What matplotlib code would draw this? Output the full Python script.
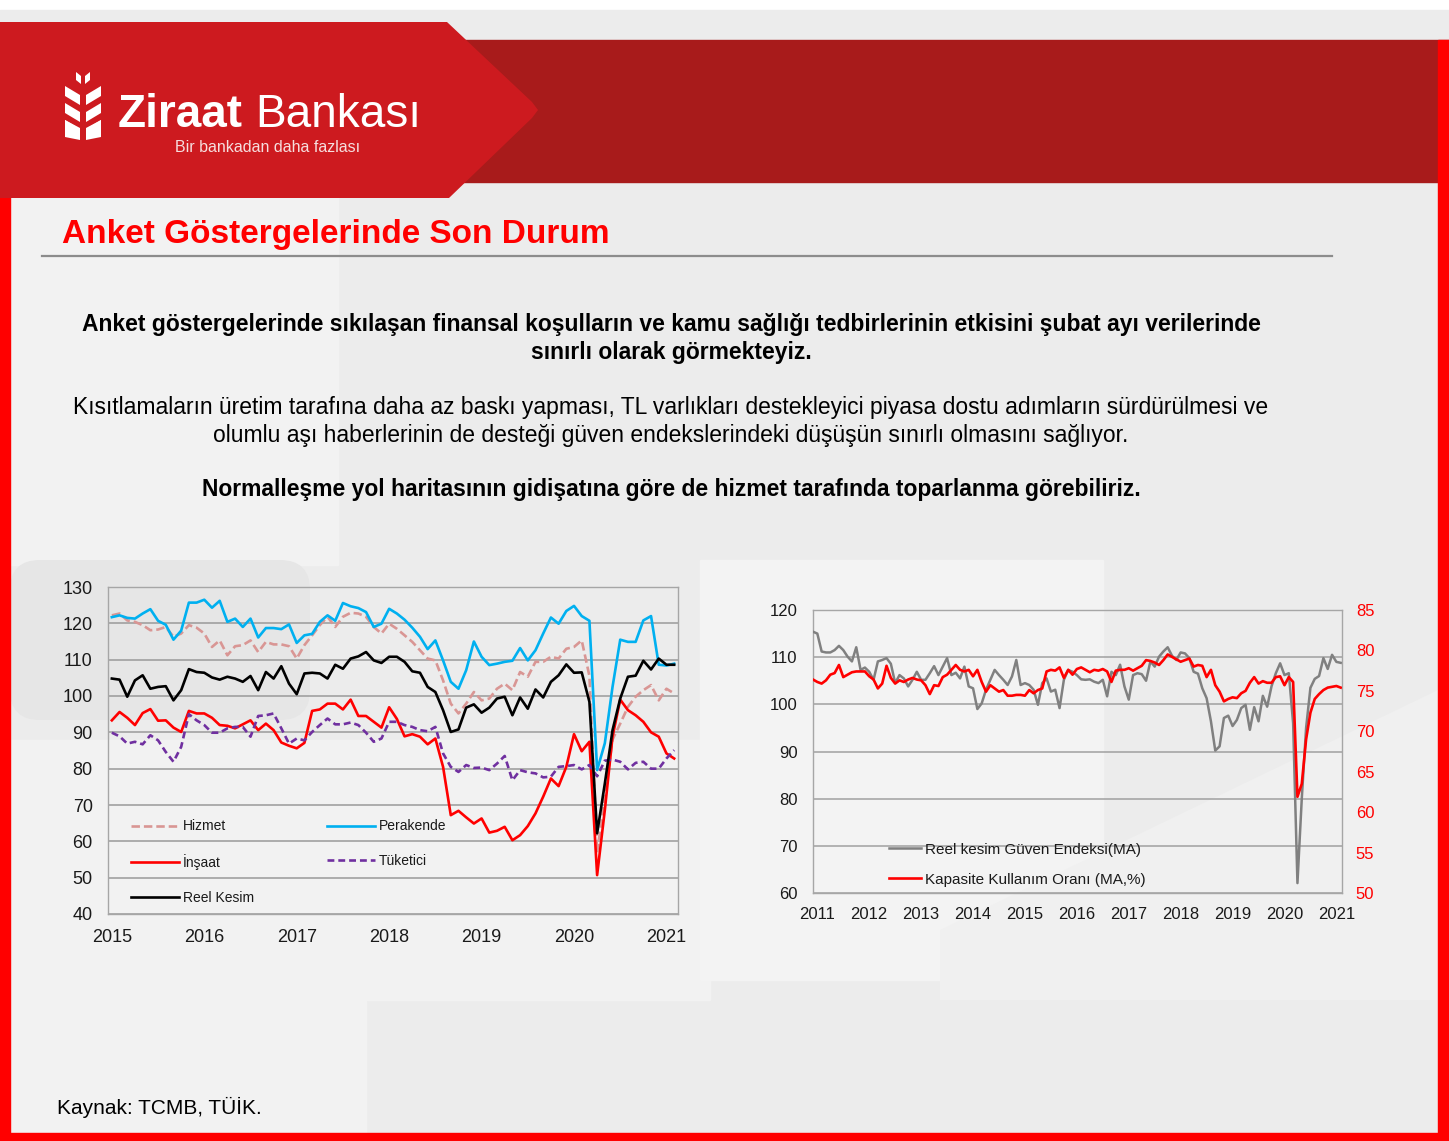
import numpy as np
import matplotlib
matplotlib.use("Agg")
import matplotlib.pyplot as plt
from matplotlib.patches import Polygon, Rectangle, FancyBboxPatch

plt.rcParams['font.family'] = ['Liberation Sans', 'DejaVu Sans']

# ---------------- data ----------------
# Left chart: monthly, Jan 2015 - Feb 2021
left_years = ["2015", "2016", "2017", "2018", "2019", "2020", "2021"]
hizmet = [122.2,122.7,120.8,120.4,119.5,118.1,118.3,119.0,116.3,117.2,119.5,118.8,117.2,113.5,115.3,111.2,113.7,114.0,115.3,112.1,114.9,114.2,114.2,113.7,110.3,114.0,116.7,119.5,121.8,119.0,121.8,122.9,122.7,121.8,119.0,117.2,119.9,118.5,116.7,114.9,112.6,110.3,109.8,104.3,97.9,95.2,97.9,101.1,98.8,99.3,102.0,103.4,101.6,106.6,105.3,109.4,109.4,110.8,110.3,113.0,113.5,115.3,105.5,57.0,72.0,88.0,92.4,97.0,99.8,101.6,103.0,98.8,102.0,100.7]
perakende = [121.7,122.2,121.5,121.3,122.7,123.9,120.7,119.6,115.5,118.0,125.7,125.7,126.5,124.3,126.2,120.4,121.3,119.0,121.3,116.1,118.7,118.7,118.4,119.7,114.6,116.7,117.1,120.4,122.2,120.7,125.6,124.7,124.2,123.1,119.0,119.9,124.0,122.7,121.0,118.8,116.3,112.9,115.3,109.8,103.9,102.0,107.1,115.0,110.8,108.5,108.9,109.4,109.7,113.2,109.8,112.6,117.2,121.6,119.9,123.4,124.8,122.0,120.7,79.6,87.0,102.5,115.5,114.9,114.9,120.8,122.0,108.6,108.4,108.9]
insaat = [93.3,95.6,94.0,92.0,95.3,96.4,93.2,93.3,91.3,90.1,95.9,95.2,95.2,94.0,92.0,91.8,91.1,92.2,93.3,90.6,92.4,90.6,87.2,86.3,85.6,87.1,95.9,96.3,97.9,97.9,96.3,99.0,94.5,94.5,92.9,91.3,96.9,93.7,88.9,89.5,88.8,86.7,88.3,80.5,67.2,68.4,66.6,64.9,66.3,62.4,62.9,64.0,60.3,61.7,64.2,67.7,72.3,77.3,75.2,80.5,89.5,84.8,87.4,50.7,68.6,88.8,99.0,96.1,94.7,92.9,90.0,88.8,84.2,82.8]
tuketici = [89.9,88.9,86.9,87.4,86.7,89.2,87.8,84.6,81.9,86.0,95.0,93.3,92.0,89.9,89.9,91.1,91.5,91.5,88.8,94.5,94.7,95.2,91.1,86.9,88.3,87.8,90.1,92.0,93.8,92.2,92.2,92.7,92.0,89.9,87.4,88.3,92.9,92.9,92.0,91.5,90.6,90.3,91.5,84.2,80.5,79.1,81.0,80.2,80.3,79.6,81.4,83.5,76.8,79.6,79.0,78.7,77.6,77.8,80.5,80.7,81.0,79.8,81.0,77.9,82.2,82.5,81.9,79.8,81.6,81.9,80.0,80.0,82.8,85.1]
reel_kesim = [104.8,104.5,99.8,104.3,105.7,102.0,102.5,102.7,98.8,101.6,107.4,106.6,106.4,105.1,104.5,105.3,104.8,103.9,105.5,101.6,106.6,104.8,108.2,103.4,100.5,106.2,106.4,106.2,104.8,108.6,107.5,110.3,110.9,112.1,109.8,109.1,110.8,110.8,109.4,106.8,106.4,102.5,101.1,96.1,90.1,90.8,96.8,97.7,95.4,96.8,99.3,99.8,94.7,99.6,96.5,101.8,99.6,103.9,105.7,108.7,106.4,106.5,98.4,62.2,75.9,90.6,99.3,105.3,105.6,109.7,107.3,110.3,108.6,108.6]

# Right chart: monthly, Jan 2011 - Mar 2021
right_years = ["2011", "2012", "2013", "2014", "2015", "2016", "2017", "2018", "2019", "2020", "2021"]
guven_endeksi = [115.4,115.0,111.2,111.0,111.0,111.5,112.4,111.5,110.1,109.1,
                 112.1,107.3,107.8,106.9,105.2,109.1,109.4,109.8,108.6,104.5,
                 106.2,105.5,103.8,105.2,106.9,105.2,105.2,106.6,108.1,106.2,
                 108.0,109.8,106.2,106.7,105.5,108.0,103.8,103.4,99.0,100.2,
                 103.1,105.2,107.3,106.2,105.2,104.1,105.9,109.4,104.1,104.5,
                 104.1,103.1,99.9,104.5,105.5,102.7,103.1,99.2,105.2,107.3,
                 106.9,106.2,105.3,105.2,105.3,104.8,104.5,105.2,101.7,106.9,
                 106.2,108.4,103.8,101.0,106.2,106.6,106.4,105.0,109.1,108.0,
                 110.1,111.2,112.1,110.3,109.4,111.0,110.8,109.8,106.9,106.5,
                 103.4,101.3,96.4,90.2,91.1,97.1,97.6,95.4,96.7,99.2,
                 99.9,94.6,99.4,96.4,101.8,99.5,103.8,106.6,108.7,106.2,
                 106.6,96.0,62.1,80.0,95.0,103.5,105.4,106.0,109.8,107.5,
                 110.5,109.0,108.8]
kko = [76.4,76.1,75.9,76.3,77.0,77.2,78.2,76.7,77.0,77.3,
       77.4,77.4,77.4,76.8,76.4,75.3,75.9,78.1,76.6,75.9,
       76.3,76.1,76.4,76.6,76.4,76.3,75.7,74.6,75.7,75.6,
       76.7,77.0,77.6,78.2,77.6,77.4,77.6,76.8,77.6,76.1,
       74.9,75.7,75.3,74.9,75.1,74.4,74.4,74.5,74.5,74.4,
       75.1,74.7,75.1,75.3,77.4,77.6,77.5,77.9,76.6,77.6,
       77.0,77.7,77.9,77.6,77.3,77.6,77.5,77.7,77.4,76.1,
       77.5,77.6,77.6,77.8,77.5,77.8,78.1,78.8,78.7,78.5,
       78.2,78.8,79.5,79.2,78.9,78.6,78.8,79.0,78.0,78.2,
       78.1,76.7,77.6,75.7,74.9,73.7,74.0,74.2,74.1,74.7,
       75.0,76.0,76.7,75.9,76.2,76.0,76.0,76.7,76.8,75.7,
       76.7,76.1,61.9,63.5,69.0,72.3,74.0,74.6,75.1,75.4,
       75.5,75.6,75.4]

W, H = 1449, 1141
fig = plt.figure(figsize=(W / 100, H / 100), dpi=100)
fig.patch.set_facecolor('white')

# ---------------- background (pixel coordinates) ----------------
bg = fig.add_axes([0, 0, 1, 1])
bg.set_xlim(0, W)
bg.set_ylim(H, 0)
bg.axis('off')

bg.add_patch(Rectangle((0, 10), W, H - 10, color='#ececec', zorder=0))
bg.add_patch(Rectangle((10, 195), 328, 370, color='#f2f2f2', zorder=0.5))
bg.add_patch(FancyBboxPatch((10, 560), 300, 160, boxstyle='round,pad=0,rounding_size=30',
                            color='#e6e6e6', zorder=0.5, lw=0))
bg.add_patch(Rectangle((10, 740), 700, 260, color='#f2f2f2', zorder=0.5))
bg.add_patch(Rectangle((10, 1000), 356, 133, color='#f2f2f2', zorder=0.5))
bg.add_patch(Rectangle((700, 560), 403, 420, color='#f3f3f3', zorder=0.5))
bg.add_patch(Polygon([(940, 930), (1438, 690), (1438, 1000), (940, 1000)], closed=True,
                     color='#f0f0f0', zorder=0.6, lw=0))

# red frame
bg.add_patch(Rectangle((440, 40), W - 440, 142, color='#a81b1b', zorder=1))
bg.add_patch(Rectangle((1438, 40), 11, H - 40, color='#ff0000', zorder=1))
bg.add_patch(Rectangle((0, 195), 10, H - 195, color='#ff0000', zorder=1))
bg.add_patch(Rectangle((0, 1133), W, 8, color='#ff0000', zorder=1))
bg.add_patch(Polygon([(0, 22), (447, 22), (532, 102), (538, 110), (532, 118), (449, 198), (0, 198)],
                     closed=True, color='#cd1a1f', zorder=2, lw=0))

# wheat icon
icon_col = 'white'
for k in range(3):
    y0 = 86 + 17 * k
    bg.add_patch(Polygon([(65, y0), (80, y0 + 9), (80, y0 + 19), (65, y0 + 10)], closed=True, color=icon_col, zorder=3, lw=0))
    bg.add_patch(Polygon([(101, y0), (86, y0 + 9), (86, y0 + 19), (101, y0 + 10)], closed=True, color=icon_col, zorder=3, lw=0))
bg.add_patch(Polygon([(65, 137), (80, 140), (80, 128), (65, 120)], closed=True, color=icon_col, zorder=3, lw=0))
bg.add_patch(Polygon([(101, 137), (86, 140), (86, 128), (101, 120)], closed=True, color=icon_col, zorder=3, lw=0))
bg.add_patch(Polygon([(76, 72), (81, 76), (81, 84), (76, 80)], closed=True, color=icon_col, zorder=3, lw=0))
bg.add_patch(Polygon([(90, 72), (85, 76), (85, 84), (90, 80)], closed=True, color=icon_col, zorder=3, lw=0))

bg.text(118, 127, "Ziraat", color='white', fontsize=33, fontweight='bold', va='baseline', ha='left', zorder=4)
bg.text(255, 127, "Bankası", color='white', fontsize=33, va='baseline', ha='left', zorder=4)
bg.text(175, 152, "Bir bankadan daha fazlası", color='#f6dede', fontsize=11.5, va='baseline', ha='left', zorder=4)

# title
bg.text(62, 243, "Anket Göstergelerinde Son Durum", color='#ff0000', fontsize=24, fontweight='bold',
        va='baseline', ha='left', zorder=4)
bg.plot([42, 1332], [256, 256], color='#8c8c8c', lw=1.6, zorder=4)

cx = 671
fs_body = 16.45
bg.text(cx, 331, "Anket göstergelerinde sıkılaşan finansal koşulların ve kamu sağlığı tedbirlerinin etkisini şubat ayı verilerinde",
        fontsize=fs_body, fontweight='bold', ha='center', va='baseline', zorder=4)
bg.text(cx, 359, "sınırlı olarak görmekteyiz.", fontsize=fs_body, fontweight='bold', ha='center', va='baseline', zorder=4)
bg.text(cx, 414, "Kısıtlamaların üretim tarafına daha az baskı yapması, TL varlıkları destekleyici piyasa dostu adımların sürdürülmesi ve",
        fontsize=fs_body, ha='center', va='baseline', zorder=4)
bg.text(cx, 442, "olumlu aşı haberlerinin de desteği güven endekslerindeki düşüşün sınırlı olmasını sağlıyor.",
        fontsize=fs_body, ha='center', va='baseline', zorder=4)
bg.text(cx, 496, "Normalleşme yol haritasının gidişatına göre de hizmet tarafında toparlanma görebiliriz.",
        fontsize=fs_body, fontweight='bold', ha='center', va='baseline', zorder=4)

bg.text(57, 1114, "Kaynak: TCMB, TÜİK.", fontsize=15, ha='left', va='baseline', zorder=4)

# ---------------- left chart ----------------
axL = fig.add_axes([108 / W, 1 - 914 / H, 570 / W, 327 / H])
axL.patch.set_alpha(0)
lw = 1.9
axL.plot(np.arange(len(hizmet)), hizmet, color='#d99694', lw=lw, dashes=(3.2, 1.5), label='Hizmet', zorder=3)
axL.plot(np.arange(len(insaat)), insaat, color='#ff0000', lw=lw, label='İnşaat', zorder=3)
axL.plot(np.arange(len(reel_kesim)), reel_kesim, color='#000000', lw=lw, label='Reel Kesim', zorder=4)
axL.plot(np.arange(len(perakende)), perakende, color='#00b0f0', lw=lw, label='Perakende', zorder=3)
axL.plot(np.arange(len(tuketici)), tuketici, color='#7030a0', lw=lw, dashes=(2.6, 1.5), label='Tüketici', zorder=3)
axL.set_xlim(-0.5, 73.5)
axL.set_ylim(40, 130)
axL.set_yticks(range(40, 131, 10))
axL.set_xticks(range(0, 73, 12))
axL.set_xticklabels(left_years)
axL.tick_params(length=0, labelsize=13, colors='#1a1a1a')
axL.tick_params(axis='y', pad=11)
axL.tick_params(axis='x', pad=10.5)
axL.grid(axis='y', color='#9a9a9a', lw=1.1)
axL.set_axisbelow(True)
for s in axL.spines.values():
    s.set_color('#a6a6a6')
    s.set_linewidth(1.0)
axL.legend(loc='upper left', bbox_to_anchor=(0.041, 0.289), ncol=2, frameon=False, fontsize=10,
           handlelength=3.4, handletextpad=0.3, columnspacing=5.3, labelspacing=1.5,
           borderaxespad=0, borderpad=0, labelcolor='#1a1a1a')

# ---------------- right chart ----------------
axR = fig.add_axes([813 / W, 1 - 893 / H, 529 / W, 283 / H])
axR.patch.set_alpha(0)
l1, = axR.plot(np.arange(len(guven_endeksi)), guven_endeksi, color='#808080', lw=1.8,
               label='Reel kesim Güven Endeksi(MA)', zorder=3)
axR.set_xlim(0, 122.3)
axR.set_ylim(60, 120)
axR.set_yticks(range(60, 121, 10))
axR.set_xticks([12 * i + 1 for i in range(len(right_years))])
axR.set_xticklabels(right_years)
axR.tick_params(length=0, labelsize=12, colors='#1a1a1a')
axR.tick_params(axis='y', pad=11)
axR.tick_params(axis='x', pad=10)
axR.grid(axis='y', color='#a0a0a0', lw=1.1)
axR.set_axisbelow(True)
for s in axR.spines.values():
    s.set_color('#a6a6a6')
    s.set_linewidth(1.0)

axR2 = axR.twinx()
l2, = axR2.plot(np.arange(len(kko)), kko, color='#ff0000', lw=1.9, label='Kapasite Kullanım Oranı (MA,%)', zorder=4)
axR2.set_ylim(50, 85)
axR2.set_yticks(range(50, 86, 5))
axR2.tick_params(length=0, labelsize=12, colors='#ff0000', pad=10)
for s in axR2.spines.values():
    s.set_visible(False)

axR2.legend(handles=[l1, l2], loc='upper left', bbox_to_anchor=(0.143, 0.178), frameon=False, fontsize=11,
            handlelength=2.1, handletextpad=0.25, labelspacing=1.05, borderaxespad=0, borderpad=0,
            labelcolor='#1a1a1a')

fig.savefig('out.png', dpi=100, facecolor=fig.get_facecolor())
